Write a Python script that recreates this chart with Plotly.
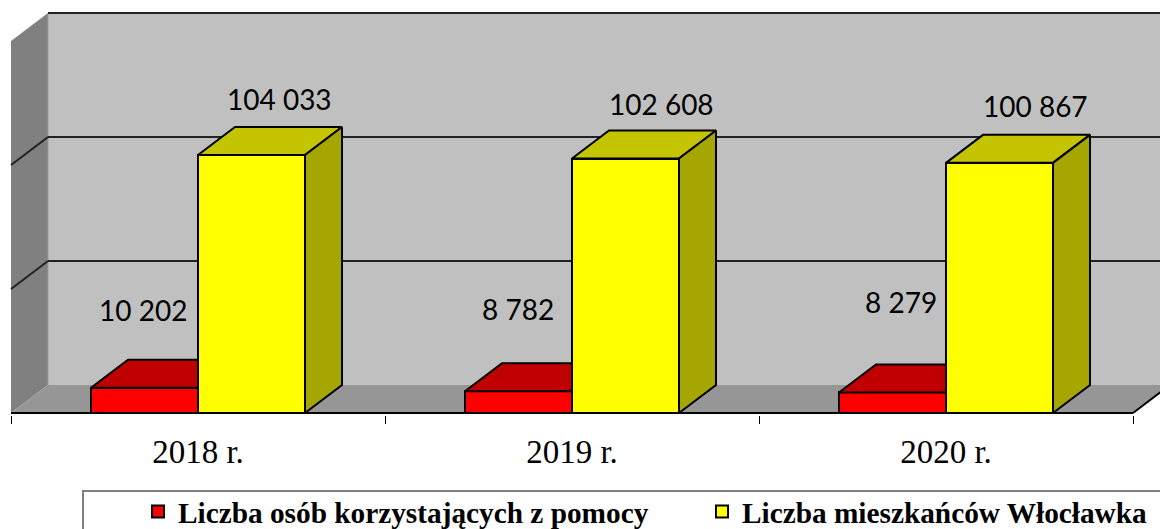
import plotly.graph_objects as go

CATEGORIES = ["2018 r.", "2019 r.", "2020 r."]
SERIES_RED_NAME = "Liczba osób korzystających z pomocy"
SERIES_YELLOW_NAME = "Liczba mieszkańców Włocławka"
RED_VALUES = [10202, 8782, 8279]
YELLOW_VALUES = [104033, 102608, 100867]
GRID_VALUES = [50000, 100000, 150000]
LABEL_TEXT_RED = ["10 202", "8 782", "8 279"]
LABEL_TEXT_YELLOW = ["104 033", "102 608", "100 867"]

# Layout of the pseudo-3D scene, in pixels
W, H = 1160, 529
PLOT_BOTTOM = 415
ZERO_PX = 413
CAT_PX = 374
FIRST_CAT_PX = 198
PX_PER_UNIT = 0.00248
DEPTH_X_PX, DEPTH_Y_PX = 37, 28
BAR_W = 107 / CAT_PX

DX = DEPTH_X_PX / CAT_PX
DY = DEPTH_Y_PX / PX_PER_UNIT
X0 = -0.5
X1 = 2.5
xrange_ = [-FIRST_CAT_PX / CAT_PX, (W - FIRST_CAT_PX) / CAT_PX]
yrange_ = [-(PLOT_BOTTOM - ZERO_PX) / PX_PER_UNIT, ZERO_PX / PX_PER_UNIT]

RED, RED_TOP = "#FF0000", "#C00000"
YEL, YEL_TOP, YEL_SIDE = "#FFFF00", "#C4C400", "#A6A600"
WALL, SIDE_WALL, FLOOR = "#C0C0C0", "#808080", "#969696"
INK = "#000000"
GRID_INK = "#222222"

fig = go.Figure()
xs = list(range(len(CATEGORIES)))

# Front faces
fig.add_bar(x=xs, y=RED_VALUES, width=BAR_W, offset=-BAR_W, name=SERIES_RED_NAME, legend="legend",
            marker=dict(color=RED, line=dict(color=INK, width=2)))
fig.add_bar(x=xs, y=YELLOW_VALUES, width=BAR_W, offset=0, name=SERIES_YELLOW_NAME, legend="legend2",
            marker=dict(color=YEL, line=dict(color=INK, width=2)))


def poly(px, py, color):
    fig.add_scatter(x=px + px[:1], y=py + py[:1], mode="lines", fill="toself",
                    fillcolor=color, line=dict(color=INK, width=2),
                    showlegend=False, hoverinfo="skip")


for x, r, y in zip(xs, RED_VALUES, YELLOW_VALUES):
    # red roof: its back part is hidden by the yellow bar
    poly([x - BAR_W, x - BAR_W + DX, x, x], [r, r + DY, r + DY, r], RED_TOP)
    # yellow roof and side
    poly([x, x + DX, x + BAR_W + DX, x + BAR_W], [y, y + DY, y + DY, y], YEL_TOP)
    poly([x + BAR_W, x + BAR_W + DX, x + BAR_W + DX, x + BAR_W], [0, DY, y + DY, y], YEL_SIDE)


def shape_poly(px, py, color):
    d = "M" + " L".join(f"{a},{b}" for a, b in zip(px, py)) + " Z"
    return dict(type="path", path=d, xref="x", yref="y", fillcolor=color,
                line=dict(width=0), layer="below")


def shape_line(x0, y0, x1, y1, color=GRID_INK, width=2):
    return dict(type="line", xref="x", yref="y", x0=x0, y0=y0, x1=x1, y1=y1,
                line=dict(color=color, width=width), layer="below")


top = GRID_VALUES[-1]
shapes = [
    shape_poly([X0 + DX, X1 + DX, X1 + DX, X0 + DX], [DY, DY, top + DY, top + DY], WALL),
    shape_poly([X0, X0 + DX, X0 + DX, X0], [0, DY, top + DY, top], SIDE_WALL),
    shape_poly([X0, X0 + DX, X1 + DX, X1], [0, DY, DY, 0], FLOOR),
    shape_line(X0 + DX, 0 + DY, X0 + DX, top + DY, "#9a9a9a", 1),
]
for g in GRID_VALUES:
    shapes.append(shape_line(X0 + DX, g + DY, X1 + DX, g + DY))
    if g != top:
        shapes.append(shape_line(X0, g, X0 + DX, g + DY))
shapes.append(shape_line(X0, 0, X1, 0, INK, 2))
shapes.append(shape_line(X1, 0, X1 + DX, DY, INK, 2))
# legend frame (its lower and right edges run off the page)
shapes.append(dict(type="rect", xref="paper", yref="paper",
                   x0=83 / W, x1=1175 / W,
                   y0=-20 / H, y1=1 - 491 / H,
                   line=dict(color="#7f7f7f", width=2), fillcolor="white"))

# Data labels: anchored on the value, with the hand-placed pixel offsets of the original
RED_SHIFT = [(-55, 78), (-54, 82), (-45, 90)]
YEL_SHIFT = [(81, 56), (89, 55), (89, 57)]
ann = []
for x, v, t, (sx, sy) in zip(xs, RED_VALUES, LABEL_TEXT_RED, RED_SHIFT):
    ann.append(dict(x=x, y=v, text=t, xref="x", yref="y", showarrow=False,
                    xshift=sx, yshift=sy, font=dict(family="Lato", size=28, color="#000")))
for x, v, t, (sx, sy) in zip(xs, YELLOW_VALUES, LABEL_TEXT_YELLOW, YEL_SHIFT):
    ann.append(dict(x=x, y=v, text=t, xref="x", yref="y", showarrow=False,
                    xshift=sx, yshift=sy, font=dict(family="Lato", size=28, color="#000")))

legend_style = dict(orientation="h", xanchor="left",
                    y=1 - 486 / H, yanchor="top",
                    itemwidth=30, bgcolor="rgba(0,0,0,0)", borderwidth=0,
                    font=dict(family="Liberation Serif", size=29.3, color="#000", weight="bold"),
                    itemclick=False, itemdoubleclick=False)

fig.update_layout(
    width=W, height=H, autosize=False,
    margin=dict(l=0, r=0, t=0, b=0, pad=0, autoexpand=False),
    paper_bgcolor="white", plot_bgcolor="white",
    barmode="overlay", bargap=0,
    shapes=shapes, annotations=ann,
    showlegend=True,
    legend=dict(x=138 / W, **legend_style),
    legend2=dict(x=702 / W, **legend_style),
    xaxis=dict(range=xrange_, tickmode="array", tickvals=xs, ticktext=CATEGORIES,
               showgrid=False, zeroline=False, showline=False,
               ticks="outside", ticklen=7, tickcolor="rgba(0,0,0,0)",
               tickfont=dict(family="Liberation Serif", size=33, color="#000"),
               minor=dict(tickmode="array", tickvals=[X0, 0.5, 1.5, X1], ticks="outside",
                          ticklen=8, tickwidth=1, tickcolor="#000", showgrid=False)),
    yaxis=dict(range=yrange_, domain=[(H - PLOT_BOTTOM) / H, 1], visible=False,
               showgrid=False, zeroline=False),
)

fig.write_html("out.html", post_script="document.body.style.margin='0';",
               config={"displayModeBar": False})
